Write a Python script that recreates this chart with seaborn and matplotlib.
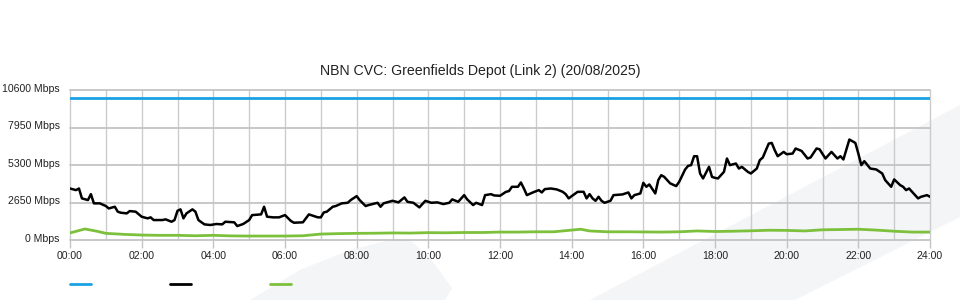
import matplotlib
matplotlib.use("Agg")
import matplotlib.pyplot as plt
from matplotlib.patches import Polygon
from matplotlib.lines import Line2D
from matplotlib.transforms import ScaledTranslation
import seaborn as sns
import pandas as pd

# ---------------- data ----------------
title = "NBN CVC: Greenfields Depot (Link 2) (20/08/2025)"

capacity_min = [0, 1440]
capacity_mbps = [10000, 10000]

black_min = [0, 10, 15, 20, 30, 35, 40, 50, 60, 65, 75, 80, 85, 95, 100, 110, 120, 130, 135, 140,
             155, 160, 170, 175, 180, 185, 190, 195, 205, 210, 215, 225, 235, 245, 255, 260, 275,
             280, 290, 300, 305, 320, 325, 330, 340, 350, 360,
             370, 375, 390, 400, 415, 420, 425, 430, 440, 445, 455, 465, 470, 480, 485, 495, 500,
             515, 520, 525, 540, 550, 560, 565, 575, 585, 595, 605, 615, 625, 635, 640, 650, 660,
             665, 675, 680, 690, 695, 705, 710, 720,
             730, 735, 740, 750, 755, 760, 765, 775, 785, 790, 795, 805, 815, 825, 830, 835, 840,
             850, 860, 865, 870, 875, 880, 885, 890, 895, 905, 910, 925, 935, 940, 945, 955, 960,
             965, 970, 980, 985, 990, 995, 1005, 1015, 1020, 1030, 1035, 1040, 1045, 1050, 1055,
             1060, 1070, 1075, 1080,
             1085, 1095, 1100, 1105, 1115, 1120, 1125, 1135, 1140, 1150, 1155, 1160, 1170, 1175,
             1180, 1185, 1195, 1200, 1210, 1215, 1225, 1235, 1240, 1250, 1255, 1265, 1275, 1285,
             1290, 1295, 1305, 1315, 1320, 1325, 1330, 1340, 1350, 1360, 1365, 1375, 1380, 1390,
             1395, 1400, 1405, 1420, 1425, 1435, 1440]
black_mbps = [3640, 3525, 3640, 2940, 2820, 3240, 2590, 2590, 2400, 2230, 2350, 2000, 1930, 1880,
              2045, 2000, 1645, 1530, 1600, 1410, 1410, 1460, 1290, 1410, 2065, 2165, 1530, 1880,
              2165, 2000, 1410, 1105, 1060, 1130, 1105, 1290, 1250, 985, 1130, 1410, 1760, 1810,
              2350, 1645, 1600, 1600, 1760,
              1340, 1220, 1250, 1810, 1600, 1600, 1950, 2000, 2350, 2400, 2590, 2630, 2820, 3100,
              2820, 2400, 2470, 2630, 2350, 2590, 2770, 2660, 3010, 2700, 2630, 2305, 2770, 2630,
              2660, 2540, 2630, 2870, 2700, 3170, 2870, 2470, 2630, 2470, 3170, 3240, 3150, 3125,
              3405, 3455, 3760, 3760, 4065, 3640, 3170, 3360, 3525, 3360, 3595, 3640, 3575, 3405,
              3240, 2940, 3100, 3405, 3405, 2940, 3240, 2940, 2770, 3055, 2770, 2630, 2770, 3170,
              3220, 3360, 2940, 3170, 3290, 4040, 3760, 3925, 3290, 4230, 4580, 4460, 4000, 3810,
              4110, 4985, 5240, 5290, 5920, 5920, 4700, 4350, 5170, 4460, 4390,
              4350, 4815, 5760, 5290, 5405, 5050, 5170, 4815, 4700, 5050, 5640, 5830, 6815, 6860,
              6345, 5920, 6225, 6060, 6110, 6465, 6295, 5760, 5830, 6465, 6415, 5760, 6225, 5760,
              5920, 5690, 7100, 6860, 6110, 5290, 5570, 5050, 4985, 4700, 4230, 3760, 4280, 3880,
              3760, 3525, 3640, 2940, 3055, 3170, 3055]

green_min = [0, 25, 45, 60, 90, 120, 150, 180, 210, 240, 270, 300, 330, 360, 390, 420, 450, 480,
             510, 540, 570, 600, 630, 660, 690, 720, 750, 780, 810, 840, 855, 870, 900, 930, 960,
             990, 1020, 1050, 1080, 1110, 1140, 1170, 1200, 1230, 1260, 1290, 1320, 1350, 1380,
             1410, 1440]
green_mbps = [500, 780, 620, 470, 400, 350, 330, 330, 300, 330, 290, 280, 280, 280, 300, 420, 450,
              470, 480, 500, 490, 520, 510, 530, 530, 560, 560, 580, 580, 700, 760, 640, 580, 580,
              570, 560, 580, 640, 600, 620, 650, 690, 680, 640, 720, 740, 760, 700, 620, 560, 560]

ytick_values = [0, 2650, 5300, 7950, 10600]
ytick_labels = ["0 Mbps", "2650 Mbps", "5300 Mbps", "7950 Mbps", "10600 Mbps"]
xtick_values = list(range(0, 1441, 120))
xtick_labels = ["00:00", "02:00", "04:00", "06:00", "08:00", "10:00", "12:00",
                "14:00", "16:00", "18:00", "20:00", "22:00", "24:00"]

BLUE = "#1ba1e2"
BLACK = "#000000"
GREEN = "#7cc03c"

# ---------------- figure ----------------
sns.set_theme(style="white")
plt.rcParams["font.family"] = ["Liberation Sans", "DejaVu Sans"]

W, H = 960, 300
fig = plt.figure(figsize=(9.6, 3.0), dpi=100)
fig.patch.set_facecolor("white")

# decorative background shapes (figure pixel coords)
def px(pts):
    return [(x / W, 1 - y / H) for x, y in pts]

bg = "#f4f5f7"
fig.patches.append(Polygon(px([(590, 300), (960, 105), (960, 217), (795, 300)]),
                           closed=True, transform=fig.transFigure, facecolor=bg,
                           edgecolor="none", zorder=-10))
fig.patches.append(Polygon(px([(250, 300), (300, 270), (350, 250), (390, 240), (410, 240),
                               (430, 258), (452, 288), (445, 300)]),
                           closed=True, transform=fig.transFigure, facecolor=bg,
                           edgecolor="none", zorder=-10))

ax = fig.add_axes([70 / W, 1 - 240 / H, 860 / W, 150 / H])
ax.patch.set_alpha(0)
ax.set_zorder(1)

df_b = pd.DataFrame({"t": black_min, "v": black_mbps})
df_g = pd.DataFrame({"t": green_min, "v": green_mbps})
df_c = pd.DataFrame({"t": capacity_min, "v": capacity_mbps})

sns.lineplot(data=df_c, x="t", y="v", ax=ax, color=BLUE, lw=2.0, estimator=None, zorder=4)
sns.lineplot(data=df_g, x="t", y="v", ax=ax, color=GREEN, lw=2.0, estimator=None, zorder=4)
sns.lineplot(data=df_b, x="t", y="v", ax=ax, color=BLACK, lw=1.8, estimator=None, zorder=5)

ax.set_xlim(0, 1440)
ax.set_ylim(0, 10600)
ax.set_xlabel("")
ax.set_ylabel("")

ax.set_yticks(ytick_values)
ax.set_yticklabels(ytick_labels)
ax.set_xticks(xtick_values)
ax.set_xticklabels(xtick_labels)
ax.set_xticks(list(range(60, 1440, 120)), minor=True)

for s in ax.spines.values():
    s.set_visible(False)

ax.grid(False)
ax.grid(True, axis="y", which="major", color="#c4c4c4", lw=1.3, zorder=1)
ax.grid(True, axis="x", which="both", color="#cccccc", lw=1.0, zorder=1)
for gl in ax.get_xgridlines() + ax.get_ygridlines():
    gl.set_clip_on(False)

ax.tick_params(axis="x", which="major", direction="out", length=6, width=1.0,
               color="#c4c4c4", pad=2, labelsize=7.6, labelcolor="#222222", bottom=True)
ax.tick_params(axis="x", which="minor", length=0)
ax.tick_params(axis="y", which="major", length=0, pad=7.5, labelsize=7.6, labelcolor="#222222")
for lab in ax.get_yticklabels():
    lab.set_transform(lab.get_transform() + ScaledTranslation(0, 1.5 / 72, fig.dpi_scale_trans))

fig.text(480 / W, 1 - 71 / H, title, ha="center", va="center", fontsize=10.2, color="#222222")

handles = [Line2D([], [], color=BLUE, lw=2), Line2D([], [], color=BLACK, lw=2),
           Line2D([], [], color=GREEN, lw=2)]
leg = fig.legend(handles, ["", "", ""], loc="center left", bbox_to_anchor=(70 / W, 1 - 285 / H),
                 ncol=3, frameon=False, handlelength=1.9, handletextpad=0.0,
                 columnspacing=7.1, borderpad=0, borderaxespad=0, fontsize=8)

fig.savefig("out.png", dpi=100, facecolor="white")
